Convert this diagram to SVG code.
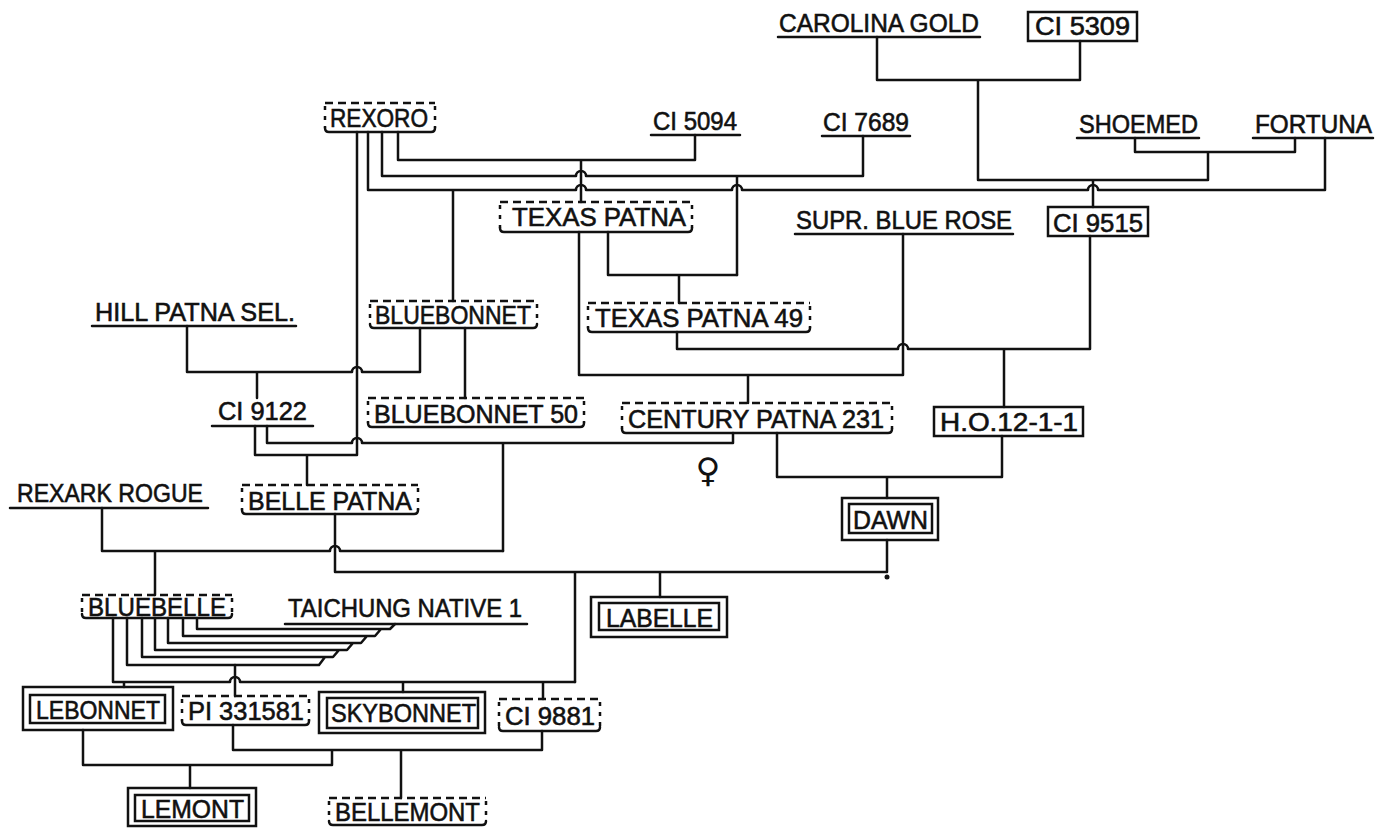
<svg xmlns="http://www.w3.org/2000/svg" width="1388" height="828" viewBox="0 0 1388 828">
<style>
.t{font-family:"Liberation Sans",Arial,sans-serif;font-size:26px;fill:#111;stroke:#111;stroke-width:0.6}
.ln{fill:none;stroke:#111;stroke-width:2.5;stroke-linejoin:round;stroke-linecap:round}
.top{fill:none;stroke:#111;stroke-width:2.5;stroke-dasharray:8 5}
.side{fill:none;stroke:#111;stroke-width:2.5;stroke-dasharray:4 6}
.bx{fill:none;stroke:#111;stroke-width:2.5}
</style>
<rect width="1388" height="828" fill="#fff"/>
<g id="connectors" class="ln">
<path d="M877,37 V80 H1080 V41 M978,80 V180 H1208 M1135,138 V152 H1295 V138 M1208,152 V180 M1093,180 V207"/>
<path d="M398,132 V160 H695 V135 M581,160 V202"/>
<path d="M382,132 V176 H576 A5,5 0 0 1 586,176 H863 V136 M737,176 V275"/>
<path d="M368,132 V190 H576 A5,5 0 0 1 586,190 H732 A5,5 0 0 1 742,190 H1088 A5,5 0 0 1 1098,190 H1325 V138 M453,190 V301"/>
<path d="M608,232 V275 H737 M679,275 V303"/>
<path d="M579,232 V375 H903 V234 M748,375 V403"/>
<path d="M677,332 V349 H898 A5,5 0 0 1 908,349 H1090 V236 M1004,349 V407"/>
<path d="M357,132 V455 H255 V426 M307,455 V485"/>
<path d="M187,326 V372 H352 A5,5 0 0 1 362,372 H420 V328 M257,372 V398"/>
<path d="M465,328 V398"/>
<path d="M267,426 V443 H352 A5,5 0 0 1 362,443 H733 V433 M503,443 V551"/>
<path d="M102,508 V551 H330 A5,5 0 0 1 340,551 H503 M155,551 V595"/>
<path d="M335,514 V572 H887 V540 M660,572 V597 M575,572 V682"/>
<path d="M777,433 V477 H1002 V436 M887,477 V498"/>
<path d="M113,618 V682 H230 A5,5 0 0 1 240,682 H575 M124,682 V687 M403,682 V692 M543,682 V699"/>
<path d="M197,618 V629 H390 L395,624 M183,618 V636 H375 L381,629 M168,618 V643 H361 L367,636 M155,618 V650 H347 L353,643 M142,618 V657 H333 L339,650 M127,618 V665 H319 L325,657"/>
<path d="M235,665 V696"/>
<path d="M233,725 V750 H542 V731 M401,750 V798 M83,730 V765 H332 V750 M190,765 V788"/>
<circle cx="887" cy="577" r="2.5" fill="#111" stroke="none"/>
<text x="708" y="482" text-anchor="middle" style="font-family:'DejaVu Sans',sans-serif;font-size:34px;font-weight:bold;fill:#111;stroke:none">♀</text>
</g>
<g id="carolina-gold"><text class="t" x="779" y="32" textLength="200" lengthAdjust="spacingAndGlyphs">CAROLINA GOLD</text><path class="ln" d="M778,37 H980"/></g>
<g id="ci5309"><rect class="bx" x="1028" y="12" width="109" height="29"/><text class="t" x="1035" y="35" textLength="95" lengthAdjust="spacingAndGlyphs">CI 5309</text></g>
<g id="rexoro"><path class="top" d="M325,103 H435"/><path class="side" d="M325,106 V128 M435,106 V128"/><path class="ln" d="M325,128 Q325,132 329,132 H431 Q435,132 435,128"/><text class="t" x="330" y="127" textLength="98" lengthAdjust="spacingAndGlyphs">REXORO</text></g>
<g id="ci5094"><text class="t" x="653" y="130" textLength="84" lengthAdjust="spacingAndGlyphs">CI 5094</text><path class="ln" d="M651,135 H740"/></g>
<g id="ci7689"><text class="t" x="823" y="131" textLength="86" lengthAdjust="spacingAndGlyphs">CI 7689</text><path class="ln" d="M822,136 H910"/></g>
<g id="shoemed"><text class="t" x="1079" y="133" textLength="119" lengthAdjust="spacingAndGlyphs">SHOEMED</text><path class="ln" d="M1077,138 H1199"/></g>
<g id="fortuna"><text class="t" x="1255" y="133" textLength="117" lengthAdjust="spacingAndGlyphs">FORTUNA</text><path class="ln" d="M1253,138 H1373"/></g>
<g id="texas-patna"><path class="top" d="M500,202 H692"/><path class="side" d="M500,205 V228 M692,205 V228"/><path class="ln" d="M500,228 Q500,232 504,232 H688 Q692,232 692,228"/><text class="t" x="512" y="226" textLength="174" lengthAdjust="spacingAndGlyphs">TEXAS PATNA</text></g>
<g id="supr-blue-rose"><text class="t" x="796" y="229" textLength="216" lengthAdjust="spacingAndGlyphs">SUPR. BLUE ROSE</text><path class="ln" d="M795,234 H1013"/></g>
<g id="ci9515"><rect class="bx" x="1048" y="207" width="100" height="29"/><text class="t" x="1053" y="232" textLength="90" lengthAdjust="spacingAndGlyphs">CI 9515</text></g>
<g id="hill-patna-sel"><text class="t" x="95" y="321" textLength="200" lengthAdjust="spacingAndGlyphs">HILL PATNA SEL.</text><path class="ln" d="M92,326 H296"/></g>
<g id="bluebonnet"><path class="top" d="M370,301 H537"/><path class="side" d="M370,304 V324 M537,304 V324"/><path class="ln" d="M370,324 Q370,328 374,328 H533 Q537,328 537,324"/><text class="t" x="375" y="324" textLength="156" lengthAdjust="spacingAndGlyphs">BLUEBONNET</text></g>
<g id="texas-patna-49"><path class="top" d="M588,303 H810"/><path class="side" d="M588,306 V328 M810,306 V328"/><path class="ln" d="M588,328 Q588,332 592,332 H806 Q810,332 810,328"/><text class="t" x="595" y="327" textLength="208" lengthAdjust="spacingAndGlyphs">TEXAS PATNA 49</text></g>
<g id="ci9122"><text class="t" x="218" y="420" textLength="89" lengthAdjust="spacingAndGlyphs">CI 9122</text><path class="ln" d="M212,426 H313"/></g>
<g id="bluebonnet-50"><path class="top" d="M368,398 H584"/><path class="side" d="M368,401 V423 M584,401 V423"/><path class="ln" d="M368,423 Q368,427 372,427 H580 Q584,427 584,423"/><text class="t" x="374" y="423" textLength="204" lengthAdjust="spacingAndGlyphs">BLUEBONNET 50</text></g>
<g id="century-patna-231"><path class="top" d="M622,403 H892"/><path class="side" d="M622,406 V429 M892,406 V429"/><path class="ln" d="M622,429 Q622,433 626,433 H888 Q892,433 892,429"/><text class="t" x="628" y="428" textLength="256" lengthAdjust="spacingAndGlyphs">CENTURY PATNA 231</text></g>
<g id="ho-12-1-1"><rect class="bx" x="934" y="407" width="149" height="29"/><text class="t" x="940" y="431" textLength="138" lengthAdjust="spacingAndGlyphs">H.O.12-1-1</text></g>
<g id="rexark-rogue"><text class="t" x="17" y="502" textLength="186" lengthAdjust="spacingAndGlyphs">REXARK ROGUE</text><path class="ln" d="M10,508 H208"/></g>
<g id="belle-patna"><path class="top" d="M242,485 H418"/><path class="side" d="M242,488 V510 M418,488 V510"/><path class="ln" d="M242,510 Q242,514 246,514 H414 Q418,514 418,510"/><text class="t" x="248" y="510" textLength="164" lengthAdjust="spacingAndGlyphs">BELLE PATNA</text></g>
<g id="dawn"><rect class="bx" x="842" y="498" width="96" height="42"/><rect class="bx" x="849" y="504" width="83" height="29"/><text class="t" x="853" y="529" textLength="75" lengthAdjust="spacingAndGlyphs">DAWN</text></g>
<g id="bluebelle"><path class="top" d="M82,595 H232"/><path class="side" d="M82,598 V614 M232,598 V614"/><path class="ln" d="M82,614 Q82,618 86,618 H228 Q232,618 232,614"/><text class="t" x="88" y="616" textLength="138" lengthAdjust="spacingAndGlyphs">BLUEBELLE</text></g>
<g id="taichung-native-1"><text class="t" x="288" y="617" textLength="234" lengthAdjust="spacingAndGlyphs">TAICHUNG NATIVE 1</text><path class="ln" d="M285,624 H527"/></g>
<g id="labelle"><rect class="bx" x="591" y="597" width="136" height="40"/><rect class="bx" x="599" y="603" width="120" height="27"/><text class="t" x="606" y="627" textLength="107" lengthAdjust="spacingAndGlyphs">LABELLE</text></g>
<g id="lebonnet"><rect class="bx" x="23" y="687" width="150" height="43"/><rect class="bx" x="30" y="695" width="135" height="28"/><text class="t" x="36" y="719" textLength="124" lengthAdjust="spacingAndGlyphs">LEBONNET</text></g>
<g id="pi-331581"><path class="top" d="M182,696 H309"/><path class="side" d="M182,699 V721 M309,699 V721"/><path class="ln" d="M182,721 Q182,725 186,725 H305 Q309,725 309,721"/><text class="t" x="188" y="720" textLength="116" lengthAdjust="spacingAndGlyphs">PI 331581</text></g>
<g id="skybonnet"><rect class="bx" x="319" y="692" width="166" height="41"/><rect class="bx" x="327" y="698" width="151" height="30"/><text class="t" x="331" y="722" textLength="145" lengthAdjust="spacingAndGlyphs">SKYBONNET</text></g>
<g id="ci-9881"><path class="top" d="M499,699 H600"/><path class="side" d="M499,702 V727 M600,702 V727"/><path class="ln" d="M499,727 Q499,731 503,731 H596 Q600,731 600,727"/><text class="t" x="505" y="725" textLength="90" lengthAdjust="spacingAndGlyphs">CI 9881</text></g>
<g id="lemont"><rect class="bx" x="128" y="788" width="128" height="38"/><rect class="bx" x="135" y="795" width="114" height="26"/><text class="t" x="141" y="818" textLength="103" lengthAdjust="spacingAndGlyphs">LEMONT</text></g>
<g id="bellemont"><path class="top" d="M329,798 H486"/><path class="side" d="M329,801 V821 M486,801 V821"/><path class="ln" d="M329,821 Q329,825 333,825 H482 Q486,825 486,821"/><text class="t" x="335" y="821" textLength="145" lengthAdjust="spacingAndGlyphs">BELLEMONT</text></g>
</svg>
